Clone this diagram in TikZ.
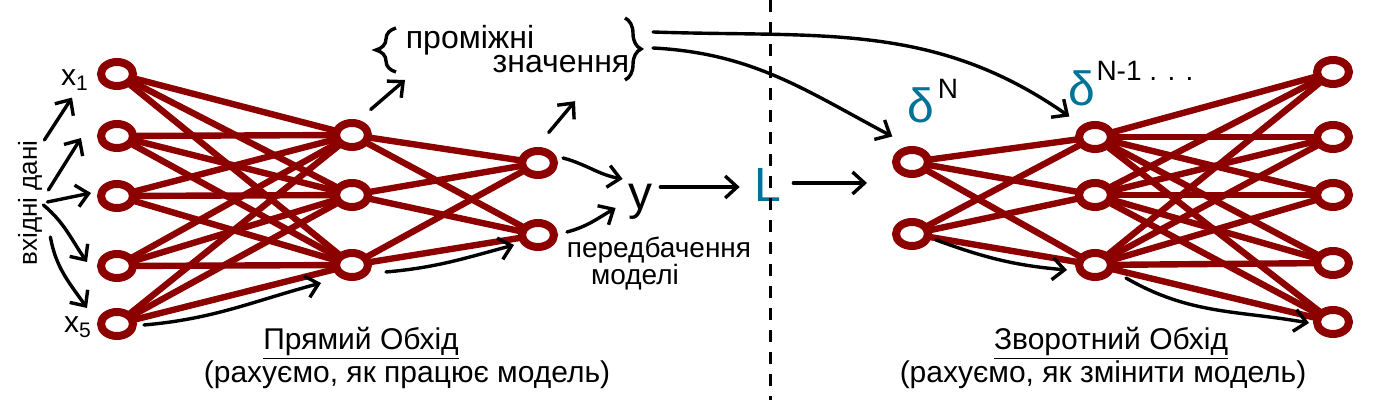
\documentclass[tikz,border=0pt]{standalone}
\usepackage{fontspec}
\setmainfont{Liberation Sans}
\usepackage{tikz}
\usetikzlibrary{arrows.meta,shapes.geometric,decorations.pathreplacing}
\definecolor{netRed}{RGB}{140,0,0}
\definecolor{gradBlue}{RGB}{0,115,150}

\begin{document}
\begin{tikzpicture}[
  x=0.5pt, y=0.5pt,
  font=\fontsize{15}{17}\selectfont,
  neuron/.style={draw=netRed, line width=4pt, ellipse, fill=white, inner sep=0pt,
              outer sep=0pt, minimum width=16pt, minimum height=12pt},
  wire/.style={netRed, line width=3.2pt},
  arr/.style={-{Straight Barb[length=6pt,width=11pt]}, line width=1.7pt, line cap=round},
  lbl/.style={inner sep=1pt, align=center},
  big/.style={inner sep=1pt, font=\fontsize{#1}{#1}\selectfont},
  brc/.style={decorate, decoration={brace,amplitude=#1}, line width=1.7pt},
  divider/.style={line width=1.5pt, dash pattern=on 6pt off 5pt}
]
\useasboundingbox (0,0) rectangle (1400,400);

\foreach \n/\y in {1/326,2/264,3/204,4/134,5/76}
  \node[neuron] (i\n) at (117,\y) {};
\foreach \n/\y in {1/265,2/205,3/135}
  \node[neuron] (h\n) at (352,\y) {};
\node[neuron] (o1) at (538,237) {};
\node[neuron] (o2) at (538,165) {};

\node[neuron] (a1) at (912,238) {};
\node[neuron] (a2) at (912,166) {};
\foreach \n/\y in {1/263,2/205,3/135}
  \node[neuron] (b\n) at (1095,\y) {};
\foreach \n/\y in {1/328,2/263,3/205,4/137,5/78}
  \node[neuron] (c\n) at (1333,\y) {};

\foreach \a in {1,...,5} \foreach \b in {1,2,3} \draw[wire] (i\a) -- (h\b);
\foreach \a in {1,2,3} \foreach \b in {1,2} \draw[wire] (h\a) -- (o\b);
\foreach \a in {1,2} \foreach \b in {1,2,3} \draw[wire] (a\a) -- (b\b);
\foreach \a in {1,2,3} \foreach \b in {1,...,5} \draw[wire] (b\a) -- (c\b);

\node[big=13, rotate=90] (inp) at (30,197) {вхідні дані};
\node[big=15] (x1) at (75,320) {x\textsubscript{1}};
\node[big=15] (x5) at (78,73) {x\textsubscript{5}};

\node[big=16] (inter1) at (470,360) {проміжні};
\node[big=16] (inter2) at (561,336) {значення};
\coordinate (lbb) at (396,328);
\coordinate (lbt) at (396,372);
\coordinate (rbt) at (625,382);
\coordinate (rbb) at (625,320);
\draw[brc=10pt] (lbb) -- (lbt);
\draw[brc=8pt] (rbt) -- (rbb);

\node[big=24] (yout) at (640,198) {y};
\node[big=14] (pred1) at (659,150) {передбачення};
\node[big=14] (pred2) at (635,123) {моделі};
\node[big=24, text=gradBlue] (loss) at (768,215) {L};

\draw[divider] (770,400) -- (770,0);

\node[big=24, text=gradBlue] (dN) at (921,295) {δ};
\node[big=14] (dNsup) at (948,311) {N};
\node[big=24, text=gradBlue] (dN1) at (1082,312) {δ};
\node[big=14] (dN1sup) at (1145,329) {N-1 . . .};

\node[lbl] (fwd) at (361,57) {\underline{Прямий Обхід}};
\node[lbl] (fwdnote) at (407,25) {(рахуємо, як працює модель)};
\node[lbl] (bwd) at (1111,57) {\underline{Зворотний Обхід}};
\node[lbl] (bwdnote) at (1103,25) {(рахуємо, як змінити модель)};

\draw[arr] ([yshift=31.5pt]inp.south) -- ([shift={(-1.5pt,-2.5pt)}]x1.south);
\draw[arr] ([shift={(2pt,6.5pt)}]inp.south) -- ([shift={(-10pt,-1pt)}]i2.west);
\draw[arr] ([shift={(1.5pt,0.5pt)}]inp.south) -- ([shift={(-5pt,1.5pt)}]i3.west);
\draw[arr] ([shift={(-0.5pt,-1pt)}]inp.south) to[out=-40,in=125] ([shift={(-7pt,2pt)}]i4.west);
\draw[arr] ([shift={(3pt,-17pt)}]inp.south) to[out=-80,in=125] ([shift={(-7pt,8pt)}]i5.west);

\draw[arr] ([shift={(5.5pt,-0.5pt)}]i5.east) to[out=5,in=195] ([shift={(-7.5pt,-9pt)}]h3.west);
\draw[arr] ([shift={(9pt,-3.5pt)}]h3.east) to[out=5,in=195] ([shift={(-4pt,-5pt)}]o2.west);
\draw[arr] ([shift={(3.7pt,8.5pt)}]h1.north east) -- ([shift={(4.5pt,-4pt)}]lbb);
\draw[arr] ([shift={(-0.3pt,11pt)}]o1.north east) -- ([shift={(7pt,-13pt)}]inter2.south);
\draw[arr] ([shift={(4.5pt,2.5pt)}]o1.east) to[out=-15,in=170] ([shift={(-1.5pt,1.5pt)}]yout.north west);
\draw[arr] ([shift={(6.5pt,1.5pt)}]o2.east) to[out=15,in=210] ([shift={(-5pt,-3pt)}]yout.west);
\draw[arr] ([shift={(3pt,7.5pt)}]yout.east) -- ([shift={(-6.3pt,-1pt)}]loss.west);
\draw[arr] ([shift={(4.8pt,1pt)}]loss.east) -- ([shift={(-14.5pt,-10.5pt)}]a1.west);

\draw[arr] ([shift={(14pt,-7pt)}]rbt) to[out=-2,in=145] ([shift={(-7.2pt,6pt)}]b1.north west);
\draw[arr] ([shift={(14pt,-15pt)}]rbt) to[out=-3,in=152] ([shift={(-4.2pt,8.5pt)}]a1.north west);
\draw[arr] ([shift={(4pt,-3pt)}]a2.east) to[out=-20,in=175] ([shift={(-6pt,-2.5pt)}]b3.west);
\draw[arr] ([shift={(7.5pt,-6.5pt)}]b3.east) to[out=-30,in=170] ([shift={(-4pt,-0.5pt)}]c5.west);

\end{tikzpicture}
\end{document}
